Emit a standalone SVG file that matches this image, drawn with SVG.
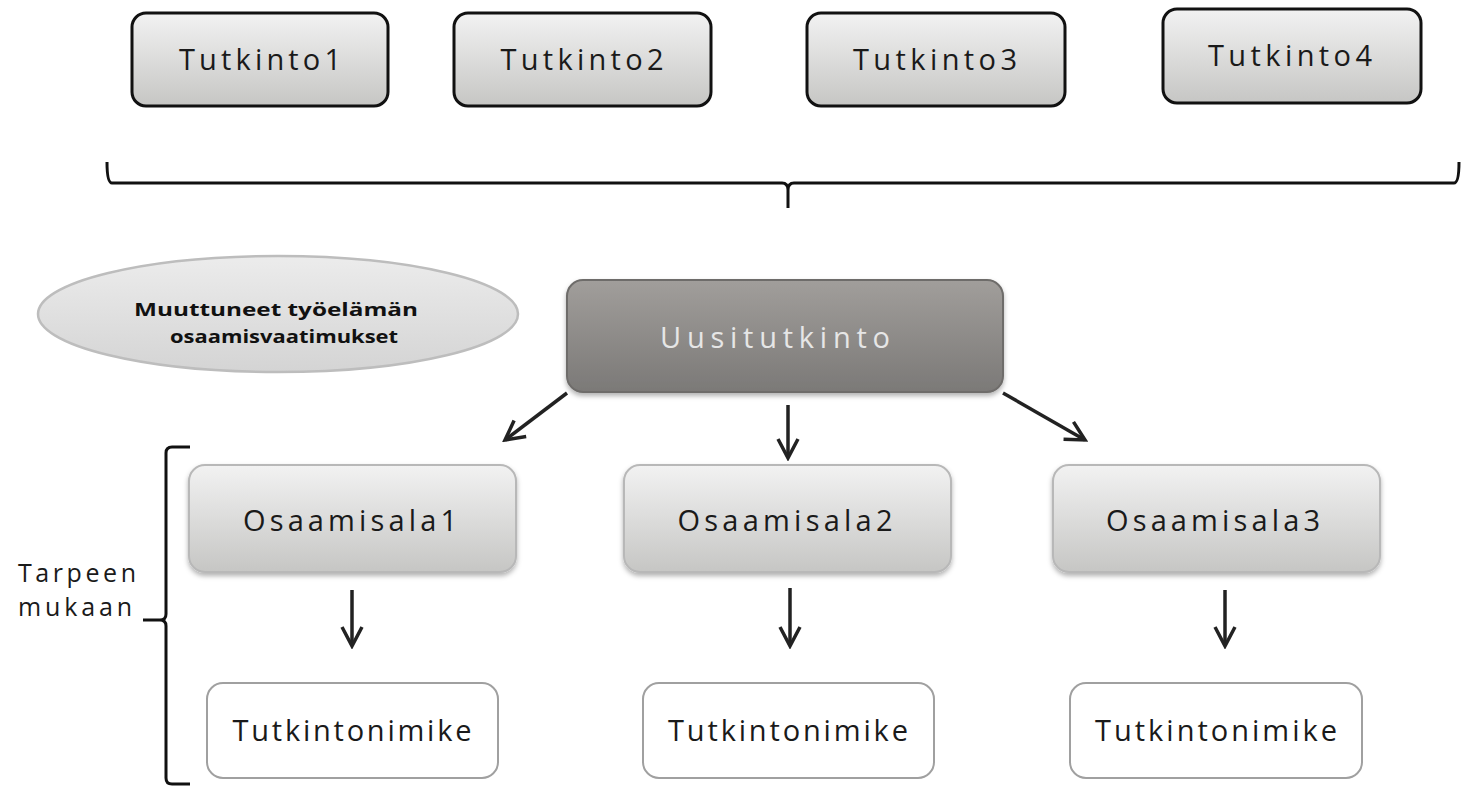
<svg xmlns="http://www.w3.org/2000/svg" width="1466" height="789" viewBox="0 0 1466 789">
<defs>
<linearGradient id="gLight" x1="0" y1="0" x2="0" y2="1">
<stop offset="0" stop-color="#f2f2f2"/>
<stop offset="1" stop-color="#c6c6c4"/>
</linearGradient>
<linearGradient id="gDark" x1="0" y1="0" x2="0" y2="1">
<stop offset="0" stop-color="#a19e9b"/>
<stop offset="1" stop-color="#7b7977"/>
</linearGradient>
<linearGradient id="gEll" x1="0" y1="0" x2="0" y2="1">
<stop offset="0" stop-color="#ececec"/>
<stop offset="1" stop-color="#d4d4d4"/>
</linearGradient>
<filter id="sh" x="-10%" y="-10%" width="120%" height="130%">
<feDropShadow dx="0" dy="3" stdDeviation="2.5" flood-color="#000" flood-opacity="0.3"/>
</filter>
<marker id="ah2" viewBox="0 0 24 24" refX="21" refY="12" markerWidth="24" markerHeight="24" markerUnits="userSpaceOnUse" orient="auto">
<path d="M2,2 L21,12 L2,22" fill="none" stroke="#222" stroke-width="3.5"/>
</marker>
</defs>
<style>
.top{fill:url(#gLight);stroke:#111;stroke-width:3}
.osa{fill:url(#gLight);stroke:#b8b8b8;stroke-width:2}
.nim{fill:#fff;stroke:#a0a0a0;stroke-width:2}
.t{font-family:"Open Sans","Liberation Sans",sans-serif;font-size:29px;fill:#1a1a1a;text-anchor:middle}
.lbl{font-family:"Open Sans","Liberation Sans",sans-serif;font-size:25px;fill:#1a1a1a}
.el{font-family:"Open Sans","Liberation Sans",sans-serif;font-size:17px;font-weight:bold;fill:#111;text-anchor:middle}
.ln{fill:none;stroke:#222;stroke-width:3.5}
.br{fill:none;stroke:#111;stroke-width:3}
</style>
<rect width="1466" height="789" fill="#fff"/>

<g id="tutkinto1"><rect class="top" x="132" y="13" width="256" height="93" rx="14"/><text class="t" x="260" y="70" textLength="162" lengthAdjust="spacing">Tutkinto1</text></g>
<g id="tutkinto2"><rect class="top" x="454" y="13" width="257" height="93" rx="14"/><text class="t" x="582" y="70" textLength="163" lengthAdjust="spacing">Tutkinto2</text></g>
<g id="tutkinto3"><rect class="top" x="807" y="13" width="258" height="93" rx="14"/><text class="t" x="935" y="70" textLength="164" lengthAdjust="spacing">Tutkinto3</text></g>
<g id="tutkinto4"><rect class="top" x="1163" y="9" width="258" height="94" rx="14"/><text class="t" x="1290" y="66" textLength="164" lengthAdjust="spacing">Tutkinto4</text></g>

<g id="brace-top"><path class="br" d="M107,162 Q107,183 112,183 L782,183 Q788,183 788,190 L788,208 M788,190 Q788,183 794,183 L1454,183 Q1459,183 1459,162"/></g>

<g id="muuttuneet"><ellipse cx="278" cy="314" rx="240" ry="58" fill="url(#gEll)" stroke="#bdbdbd" stroke-width="2.5"/><text class="el" x="276" y="316" textLength="284" lengthAdjust="spacingAndGlyphs">Muuttuneet työelämän</text><text class="el" x="284" y="343" textLength="228" lengthAdjust="spacingAndGlyphs">osaamisvaatimukset</text></g>

<g id="uusitutkinto"><rect x="567" y="280" width="436" height="112" rx="16" fill="url(#gDark)" stroke="#6e6c6a" stroke-width="2" filter="url(#sh)"/><text class="t" x="775" y="348" style="fill:#e6e6e6" textLength="230" lengthAdjust="spacing">Uusitutkinto</text></g>

<g id="osaamisala1"><rect class="osa" x="189" y="465" width="327" height="107" rx="16" filter="url(#sh)"/><text class="t" x="350" y="531" textLength="214" lengthAdjust="spacing">Osaamisala1</text></g>
<g id="osaamisala2"><rect class="osa" x="624" y="465" width="327" height="107" rx="16" filter="url(#sh)"/><text class="t" x="785" y="531" textLength="215" lengthAdjust="spacing">Osaamisala2</text></g>
<g id="osaamisala3"><rect class="osa" x="1053" y="465" width="327" height="107" rx="16" filter="url(#sh)"/><text class="t" x="1213" y="531" textLength="214" lengthAdjust="spacing">Osaamisala3</text></g>

<g id="nimike1"><rect class="nim" x="207" y="683" width="291" height="95" rx="16"/><text class="t" x="352" y="741" textLength="239" lengthAdjust="spacing">Tutkintonimike</text></g>
<g id="nimike2"><rect class="nim" x="643" y="683" width="291" height="95" rx="16"/><text class="t" x="788" y="741" textLength="240" lengthAdjust="spacing">Tutkintonimike</text></g>
<g id="nimike3"><rect class="nim" x="1070" y="683" width="292" height="95" rx="16"/><text class="t" x="1216" y="741" textLength="242" lengthAdjust="spacing">Tutkintonimike</text></g>

<g id="tarpeen"><text class="lbl" x="18" y="582" textLength="118" lengthAdjust="spacing">Tarpeen</text><text class="lbl" x="18" y="616" textLength="114" lengthAdjust="spacing">mukaan</text></g>
<g id="brace-left"><path class="br" d="M190,447 L172,447 Q166,447 166,453 L166,614 Q166,620 160,620 L143,620 M160,620 Q166,620 166,626 L166,778 Q166,784 172,784 L190,784"/></g>

<g id="connectors">
<line class="ln" x1="567" y1="393" x2="505" y2="440" marker-end="url(#ah2)"/>
<line class="ln" x1="788" y1="405" x2="788" y2="458" marker-end="url(#ah2)"/>
<line class="ln" x1="1003" y1="393" x2="1085" y2="440" marker-end="url(#ah2)"/>
<line class="ln" x1="352" y1="590" x2="352" y2="646" marker-end="url(#ah2)"/>
<line class="ln" x1="790" y1="588" x2="790" y2="646" marker-end="url(#ah2)"/>
<line class="ln" x1="1225" y1="590" x2="1225" y2="646" marker-end="url(#ah2)"/>
</g>
</svg>
